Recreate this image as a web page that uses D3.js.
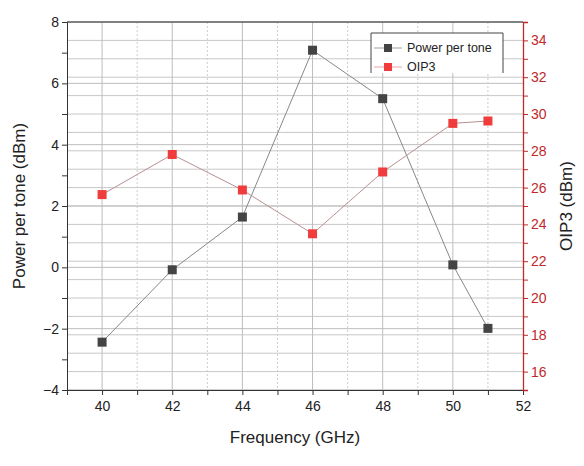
<!DOCTYPE html>
<html><head><meta charset="utf-8">
<script src="https://cdn.jsdelivr.net/npm/d3@7"></script>
<style>body{margin:0;background:#fff}text{font-family:Arial,"Liberation Sans",sans-serif}</style>
</head><body>
<svg id="c" width="584" height="466"></svg>
<script>
const freq = [40, 42, 44, 46, 48, 50, 51];
const power = [-2.44, -0.08, 1.64, 7.08, 5.5, 0.08, -1.99];
const oip3 = [25.62, 27.8, 25.87, 23.49, 26.85, 29.49, 29.62];
const xTicks = [40, 42, 44, 46, 48, 50, 52];
const yLeftTicks = [-4, -2, 0, 2, 4, 6, 8];
const yRightTicks = [16, 18, 20, 22, 24, 26, 28, 30, 32, 34];

const svg = d3.select("#c");
const L = 67, R = 523, T = 22, B = 390;
const x = d3.scaleLinear().domain([39, 52]).range([L, R]);
const yl = d3.scaleLinear().domain([-4, 8]).range([B, T]);
const yr = d3.scaleLinear().domain([15, 35]).range([B, T]);
const red = "#c0282c";

const g = svg.append("g");
d3.range(15, 36, 1).forEach(v => g.append("line").attr("x1", L).attr("x2", R).attr("y1", yr(v)).attr("y2", yr(v)).attr("stroke", "#c8c8c8").attr("stroke-width", 1));
yLeftTicks.forEach(v => g.append("line").attr("x1", L).attr("x2", R).attr("y1", yl(v)).attr("y2", yl(v)).attr("stroke", "#bdbdbd").attr("stroke-width", 1));
d3.range(40, 52, 1).forEach(v => g.append("line").attr("x1", x(v)).attr("x2", x(v)).attr("y1", T).attr("y2", B)
  .attr("stroke", v % 2 === 0 ? "#bdbdbd" : "#cccccc").attr("stroke-dasharray", v % 2 === 0 ? null : "2,2"));

const lg = svg.append("g");
lg.append("rect").attr("x", 371).attr("y", 33).attr("width", 132).attr("height", 40).attr("fill", "#fff");
lg.append("path").attr("d", "M371,73V33H503V73").attr("fill", "none").attr("stroke", "#444").attr("stroke-width", 1);
[["Power per tone", "#444", 48], ["OIP3", "#f03c3c", 67]].forEach(([t, c, yy]) => {
  lg.append("line").attr("x1", 374).attr("x2", 402).attr("y1", yy).attr("y2", yy).attr("stroke", c === "#444" ? "#888" : "#e88").attr("stroke-width", 0.8);
  lg.append("rect").attr("x", 384).attr("y", yy - 4).attr("width", 8).attr("height", 8).attr("fill", c);
  lg.append("text").attr("x", 407).attr("y", yy + 4).attr("font-size", 12.5).attr("fill", "#222").text(t);
});

const lp = d3.line().x((d, i) => x(freq[i])).y(d => yl(d));
const lo = d3.line().x((d, i) => x(freq[i])).y(d => yr(d));
svg.append("path").attr("d", lp(power)).attr("fill", "none").attr("stroke", "#888").attr("stroke-width", 1);
svg.append("path").attr("d", lo(oip3)).attr("fill", "none").attr("stroke", "#b89090").attr("stroke-width", 1);
svg.selectAll(".p").data(power).join("rect").attr("x", (d, i) => x(freq[i]) - 4.5).attr("y", d => yl(d) - 4.5).attr("width", 9).attr("height", 9).attr("fill", "#444");
svg.selectAll(".o").data(oip3).join("rect").attr("x", (d, i) => x(freq[i]) - 4.5).attr("y", d => yr(d) - 4.5).attr("width", 9).attr("height", 9).attr("fill", "#f03c3c");

const ax = svg.append("g").attr("transform", `translate(0,${B})`)
  .call(d3.axisBottom(x).tickValues(d3.range(39, 53, 1)).tickSize(5).tickFormat(d => xTicks.includes(d) ? d : ""));
ax.selectAll("text").attr("font-size", 14).attr("fill", "#222").attr("dy", "0.9em");
ax.select(".domain").attr("stroke", "#333");
const al = svg.append("g").attr("transform", `translate(${L},0)`)
  .call(d3.axisLeft(yl).tickValues(d3.range(-4, 9, 1)).tickSize(5).tickFormat(d => yLeftTicks.includes(d) ? d3.format("")(d).replace("-", "−") : ""));
al.selectAll("text").attr("font-size", 14).attr("fill", "#222");
al.select(".domain").attr("stroke", "#333");
const ar = svg.append("g").attr("transform", `translate(${R},0)`)
  .call(d3.axisRight(yr).tickValues(d3.range(15, 36, 1)).tickSize(5).tickFormat(d => yRightTicks.includes(d) ? d : ""));
ar.selectAll("text").attr("font-size", 14).attr("fill", red);
ar.selectAll("line").attr("stroke", red);
ar.select(".domain").attr("stroke", red).attr("stroke-width", 1.3);
svg.append("line").attr("x1", L).attr("x2", R).attr("y1", T).attr("y2", T).attr("stroke", "#333");
[ax, al].forEach(a => a.selectAll(".tick line").attr("stroke", "#333"));

svg.append("text").attr("x", (L + R) / 2).attr("y", 443).attr("text-anchor", "middle").attr("font-size", 17).attr("fill", "#222").text("Frequency (GHz)");
svg.append("text").attr("transform", `translate(25,${(T + B) / 2}) rotate(-90)`).attr("text-anchor", "middle").attr("font-size", 17).attr("fill", "#222").text("Power per tone (dBm)");
svg.append("text").attr("transform", `translate(572,${(T + B) / 2}) rotate(-90)`).attr("text-anchor", "middle").attr("font-size", 17).attr("fill", "#222").text("OIP3 (dBm)");
</script>
</body></html>
